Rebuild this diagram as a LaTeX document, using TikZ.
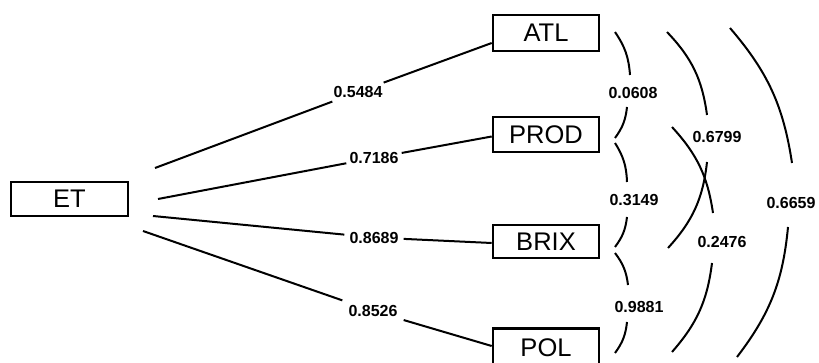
\documentclass[tikz,border=0pt]{standalone}
\usepackage{fontspec}
\setmainfont{Liberation Sans}
\begin{document}
\begin{tikzpicture}[x=1pt,y=-1pt,
  varbox/.style={draw,line width=2.6pt,minimum width=106pt,minimum height=35pt,inner sep=0pt,font=\fontsize{25.5}{25.5}\selectfont},
  lab/.style={font=\fontsize{16}{16}\selectfont\bfseries,inner xsep=4pt,inner ysep=4pt},
  conn/.style={line width=2pt},
  arcline/.style={line width=2pt}]
\fill[white] (0,0) rectangle (819,363);
\useasboundingbox (0,0) rectangle (819,363);
% boxes
\node[varbox,minimum width=117pt,minimum height=34pt] (ET) at (69.5,199) {ET};
\node[varbox,minimum height=36pt] (ATL) at (546,33) {ATL};
\node[varbox] (PROD) at (546,134.5) {PROD};
\node[varbox,minimum height=33pt] (BRIX) at (546,241.5) {BRIX};
\node[varbox,minimum height=39pt] (POL) at (546,348) {POL};
% ET connector starts
\coordinate (s1) at (155,168);
\coordinate (s2) at (158,199);
\coordinate (s3) at (153,216);
\coordinate (s4) at (143,231);
\coordinate (e1) at ([yshift=-10pt]ATL.west);
\coordinate (e2) at ([yshift=-2pt]PROD.west);
\coordinate (e3) at ([yshift=-1.5pt]BRIX.west);
\coordinate (e4) at ([yshift=2pt]POL.west);
% ET labels
\node[lab,inner xsep=1pt] (L1) at (358,92) {0.5484};
\node[lab,inner xsep=3pt] (L2) at (374,158) {0.7186};
\node[lab,inner xsep=5pt] (L3) at (374,237.5) {0.8689};
\node[lab,inner xsep=6pt,inner ysep=6pt] (L4) at (373,311) {0.8526};
\draw[conn] (s1) -- (L1) -- (e1);
\draw[conn] (s2) -- (L2) -- (e2);
\draw[conn] (s3) -- (L3) -- (e3);
\draw[conn] (s4) -- (L4) -- (e4);
% correlation labels
\node[lab] (C1) at (633,93) {0.0608};
\node[lab] (C2) at (634,200) {0.3149};
\node[lab] (C3) at (639,307) {0.9881};
\node[lab] (C4) at (717,137) {0.6799};
\node[lab] (C5) at (722,242) {0.2476};
\node[lab] (C6) at (791,203) {0.6659};
% correlation arcs: end points and gap points
\coordinate (a1t) at (615,32);  \coordinate (a1u) at (630,75);  \coordinate (a1l) at (627,107); \coordinate (a1b) at (615,138);
\coordinate (a2t) at (615,143); \coordinate (a2u) at (627,182); \coordinate (a2l) at (627,217); \coordinate (a2b) at (615,247);
\coordinate (a3t) at (615,253); \coordinate (a3u) at (628,285); \coordinate (a3l) at (627,322); \coordinate (a3b) at (615,353);
\coordinate (a4t) at (667,32);  \coordinate (a4u) at (707,115); \coordinate (a4l) at (707,162); \coordinate (a4b) at (668,248);
\coordinate (a5t) at (672,127); \coordinate (a5u) at (713,213); \coordinate (a5l) at (712,263); \coordinate (a5b) at (672,352);
\coordinate (a6t) at (730,28);  \coordinate (a6u) at (792,163); \coordinate (a6l) at (788,227); \coordinate (a6b) at (737,357);
\draw[arcline] (a1t) to[bend left=15] (a1u) (a1l) to[bend left=15] (a1b);
\draw[arcline] (a2t) to[bend left=15] (a2u) (a2l) to[bend left=15] (a2b);
\draw[arcline] (a3t) to[bend left=15] (a3u) (a3l) to[bend left=15] (a3b);
\draw[arcline] (a4t) to[bend left=18] (a4u) (a4l) to[bend left=18] (a4b);
\draw[arcline] (a5t) to[bend left=17] (a5u) (a5l) to[bend left=17] (a5b);
\draw[arcline] (a6t) to[bend left=16] (a6u) (a6l) to[bend left=16] (a6b);
\end{tikzpicture}
\end{document}
